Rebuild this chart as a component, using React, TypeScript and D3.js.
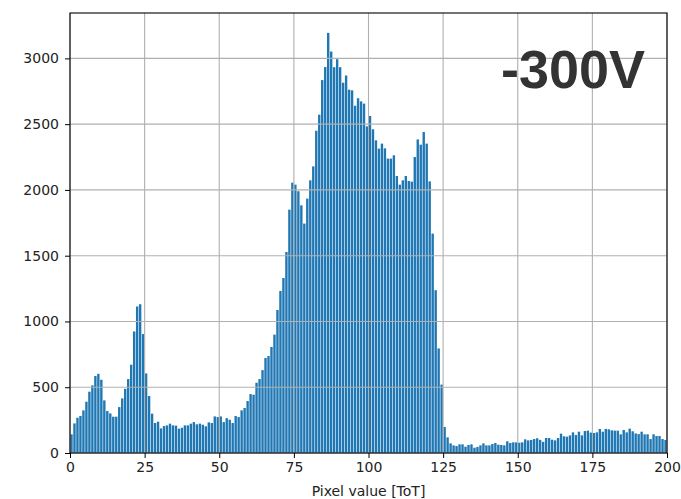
import { useEffect, useRef } from 'react'
import * as d3 from 'd3'

// Counts per ToT bin (bin i covers [i, i+1))
const counts = [
  142, 225, 268, 281, 324, 390, 466, 514, 585, 602,
  557, 400, 319, 301, 276, 276, 349, 415, 488, 562,
  671, 924, 1114, 1131, 904, 605, 433, 299, 228, 238,
  187, 205, 210, 223, 210, 208, 185, 192, 210, 210,
  223, 235, 218, 223, 215, 203, 233, 228, 278, 273,
  278, 235, 265, 253, 228, 281, 273, 324, 342, 395,
  448, 443, 534, 562, 630, 722, 737, 806, 900, 1087,
  1232, 1330, 1528, 1850, 2055, 2040, 1990, 1883, 1744, 1934,
  2073, 2179, 2450, 2572, 2835, 2934, 3194, 3052, 2933, 2994,
  2933, 2815, 2870, 2762, 2757, 2640, 2697, 2673, 2656, 2483,
  2562, 2461, 2377, 2314, 2352, 2316, 2238, 2238, 2263, 2106,
  2040, 2073, 2106, 2068, 2063, 2250, 2384, 2344, 2440, 2352,
  2065, 1668, 1238, 795, 520, 198, 119, 73, 58, 53,
  66, 66, 48, 61, 66, 40, 46, 58, 73, 58,
  58, 68, 76, 63, 61, 58, 89, 76, 81, 81,
  78, 81, 104, 96, 99, 106, 112, 100, 85, 114,
  114, 101, 96, 114, 147, 127, 124, 134, 157, 137,
  162, 134, 167, 170, 155, 152, 157, 183, 162, 183,
  180, 172, 170, 170, 142, 175, 157, 185, 165, 149,
  144, 162, 142, 142, 106, 142, 129, 129, 106, 99,
]

const xTicks = [0, 25, 50, 75, 100, 125, 150, 175, 200]
const yTicks = [0, 500, 1000, 1500, 2000, 2500, 3000]
const xLabel = 'Pixel value [ToT]'
const title = '-300V'

export default function App() {
  const svgRef = useRef<SVGSVGElement>(null)

  useEffect(() => {
    if (!svgRef.current) return
    const width = 681
    const height = 499
    const margin = { top: 13, right: 14, bottom: 46, left: 70 }
    const plotWidth = width - margin.left - margin.right
    const plotHeight = height - margin.top - margin.bottom

    const svg = d3.select(svgRef.current)
    svg.selectAll('*').remove()

    svg.append('rect').attr('width', width).attr('height', height).attr('fill', '#fff')

    const xScale = d3.scaleLinear().domain([0, 200]).range([0, plotWidth])
    const yScale = d3.scaleLinear().domain([0, 3345]).range([plotHeight, 0])

    const g = svg.append('g').attr('transform', `translate(${margin.left},${margin.top})`)

    // bars (rwidth 0.8)
    g.selectAll('.bar')
      .data(counts)
      .join('rect')
      .attr('class', 'bar')
      .attr('x', (_, i) => xScale(i + 0.1))
      .attr('width', xScale(0.8) - xScale(0))
      .attr('y', (d) => yScale(d))
      .attr('height', (d) => yScale(0) - yScale(d))
      .attr('fill', '#1f77b4')

    // grid sits above the bars, like matplotlib's default
    const grid = g.append('g').attr('stroke', '#b0b0b0').attr('stroke-width', 1.1)
    grid.selectAll('.vgrid')
      .data(xTicks)
      .join('line')
      .attr('x1', (d) => xScale(d))
      .attr('x2', (d) => xScale(d))
      .attr('y1', 0)
      .attr('y2', plotHeight)
    grid.selectAll('.hgrid')
      .data(yTicks)
      .join('line')
      .attr('x1', 0)
      .attr('x2', plotWidth)
      .attr('y1', (d) => yScale(d))
      .attr('y2', (d) => yScale(d))

    // axes
    const xAxis = d3.axisBottom(xScale).tickValues(xTicks).tickSize(5).tickPadding(4)
    const xg = g.append('g').attr('transform', `translate(0,${plotHeight})`).call(xAxis)
    xg.select('.domain').remove()
    xg.selectAll('text').attr('font-size', 14).attr('font-family', 'DejaVu Sans').attr('fill', '#222')

    const yAxis = d3.axisLeft(yScale).tickValues(yTicks).tickFormat(d3.format('d')).tickSize(5).tickPadding(6)
    const yg = g.append('g').call(yAxis)
    yg.select('.domain').remove()
    yg.selectAll('text').attr('font-size', 14).attr('font-family', 'DejaVu Sans').attr('fill', '#222')

    // frame
    g.append('rect')
      .attr('width', plotWidth)
      .attr('height', plotHeight)
      .attr('fill', 'none')
      .attr('stroke', '#000')
      .attr('stroke-width', 1.1)

    // x label
    g.append('text')
      .attr('x', plotWidth / 2)
      .attr('y', plotHeight + 43)
      .attr('text-anchor', 'middle')
      .attr('font-size', 14)
      .attr('font-family', 'DejaVu Sans')
      .attr('fill', '#222')
      .text(xLabel)

    // voltage tag
    g.append('text')
      .attr('x', 431)
      .attr('y', 75)
      .attr('font-size', 54)
      .attr('font-weight', 'bold')
      .attr('font-family', 'Liberation Sans, Arial, sans-serif')
      .attr('fill', '#333333')
      .text(title)
  }, [])

  return (
    <svg
      ref={svgRef}
      width={681}
      height={499}
      style={{ position: 'absolute', left: 0, top: 0 }}
    />
  )
}
